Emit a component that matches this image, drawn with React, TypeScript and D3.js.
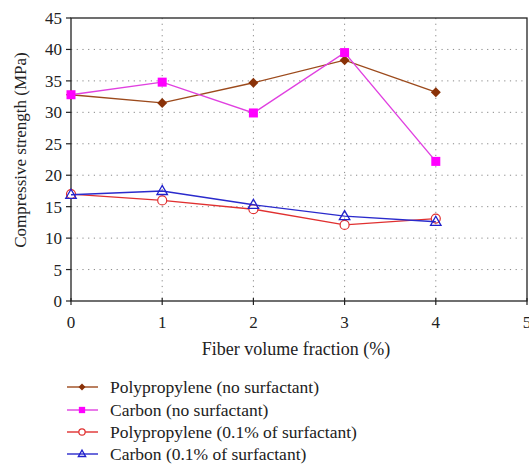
import React from "react";
import * as d3 from "d3";

const xValues = [0, 1, 2, 3, 4];
const ppNoSurf = [32.8, 31.5, 34.7, 38.3, 33.2];
const carbonNoSurf = [32.8, 34.8, 29.9, 39.5, 22.2];
const ppSurf = [17.0, 16.0, 14.6, 12.1, 13.1];
const carbonSurf = [16.9, 17.5, 15.3, 13.5, 12.6];
const xTicks = [0, 1, 2, 3, 4, 5];
const yTicks = [0, 5, 10, 15, 20, 25, 30, 35, 40, 45];
const seriesNames = [
  "Polypropylene (no surfactant)",
  "Carbon (no surfactant)",
  "Polypropylene (0.1% of surfactant)",
  "Carbon (0.1% of surfactant)",
];

const W = 529, H = 465;
const left = 71, right = 527, top = 18, bottom = 301;
const FONT = "Liberation Serif, DejaVu Serif, serif";

const x = d3.scaleLinear().domain([0, 5]).range([left, right]);
const y = d3.scaleLinear().domain([0, 45]).range([bottom, top]);

type Marker = "diamond" | "square" | "circle" | "triangle";
const series: { name: string; values: number[]; color: string; mcolor: string; marker: Marker }[] = [
  { name: seriesNames[0], values: ppNoSurf, color: "#9c4a1c", mcolor: "#8a3208", marker: "diamond" },
  { name: seriesNames[1], values: carbonNoSurf, color: "#e040e0", mcolor: "#ff00ff", marker: "square" },
  { name: seriesNames[2], values: ppSurf, color: "#e03030", mcolor: "#e03030", marker: "circle" },
  { name: seriesNames[3], values: carbonSurf, color: "#2a2acc", mcolor: "#2020cc", marker: "triangle" },
];

function MarkerShape({ type, cx, cy, color, scale = 1 }: { type: Marker; cx: number; cy: number; color: string; scale?: number }) {
  if (type === "diamond") {
    const s = 5 * scale;
    return <path d={`M${cx},${cy - s}L${cx + s},${cy}L${cx},${cy + s}L${cx - s},${cy}Z`} fill={color} />;
  }
  if (type === "square") {
    const s = 4.5 * scale;
    return <rect x={cx - s} y={cy - s} width={2 * s} height={2 * s} fill={color} />;
  }
  if (type === "circle") {
    return <circle cx={cx} cy={cy} r={4.5 * scale} fill="white" stroke={color} strokeWidth={1.2} />;
  }
  const s = 5.5 * scale;
  return (
    <path
      d={`M${cx},${cy - s}L${cx + s * 0.95},${cy + s * 0.65}L${cx - s * 0.95},${cy + s * 0.65}Z`}
      fill="none"
      stroke={color}
      strokeWidth={1.3}
    />
  );
}

const ts = { fontFamily: FONT };

export default function App() {
  const line = d3
    .line<number>()
    .x((_, i) => x(xValues[i]))
    .y((d) => y(d));
  const legendY = [387, 410, 432, 454];
  return (
    <svg width={W} height={H} style={{ position: "absolute", left: 0, top: 0, background: "white" }}>
      <rect width={W} height={H} fill="white" />
      {yTicks.filter((t) => t > 0 && t < 45).map((t) => (
        <line key={"gy" + t} x1={left} x2={right} y1={y(t)} y2={y(t)} stroke="#888" strokeWidth={1} strokeDasharray="1.2,4.5" />
      ))}
      {xTicks.filter((t) => t > 0 && t < 5).map((t) => (
        <line key={"gx" + t} x1={x(t)} x2={x(t)} y1={top} y2={bottom} stroke="#888" strokeWidth={1} strokeDasharray="1.2,4.5" />
      ))}
      <rect x={left} y={top} width={right - left} height={bottom - top} fill="none" stroke="#222" strokeWidth={1.3} />
      {yTicks.map((t) => (
        <g key={"yt" + t}>
          <line x1={left - 5} x2={left} y1={y(t)} y2={y(t)} stroke="#222" strokeWidth={1.2} />
          <text x={left - 9} y={y(t)} dy="0.35em" textAnchor="end" fontSize={17} fill="#222" style={ts}>{t}</text>
        </g>
      ))}
      {xTicks.map((t) => (
        <g key={"xt" + t}>
          <line x1={x(t)} x2={x(t)} y1={bottom - 3} y2={bottom + 4} stroke="#222" strokeWidth={1.2} />
          <text x={x(t)} y={bottom + 27} textAnchor="middle" fontSize={17} fill="#222" style={ts}>{t}</text>
        </g>
      ))}
      <text x={296} y={355} textAnchor="middle" fontSize={18} fill="#222" style={ts}>Fiber volume fraction (%)</text>
      <text transform={`translate(26,150) rotate(-90)`} textAnchor="middle" fontSize={17} fill="#222" style={ts}>Compressive strength (MPa)</text>
      {series.map((s) => (
        <g key={s.name}>
          <path d={line(s.values) || ""} fill="none" stroke={s.color} strokeWidth={1.4} />
          {s.values.map((v, i) => (
            <MarkerShape key={i} type={s.marker} cx={x(xValues[i])} cy={y(v)} color={s.mcolor} />
          ))}
        </g>
      ))}
      {series.map((s, i) => (
        <g key={"lg" + i}>
          <line x1={67} x2={98} y1={legendY[i]} y2={legendY[i]} stroke={s.color} strokeWidth={1.4} />
          <MarkerShape type={s.marker} cx={82} cy={legendY[i]} color={s.mcolor} scale={0.7} />
          <text x={110} y={legendY[i]} dy="0.35em" fontSize={17.5} fill="#222" style={ts}>{s.name}</text>
        </g>
      ))}
    </svg>
  );
}
